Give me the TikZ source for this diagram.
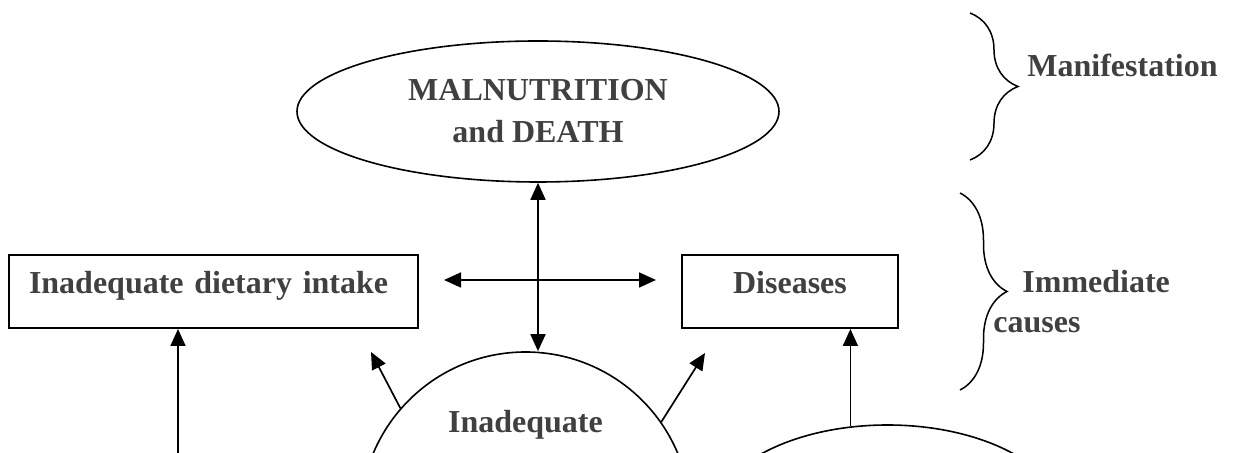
\documentclass[tikz,border=0pt]{standalone}
\usepackage{fontspec}
\setmainfont{Liberation Serif}
\usetikzlibrary{shapes.geometric, arrows.meta, decorations.pathreplacing}
\definecolor{txtgray}{RGB}{64,64,64}

\begin{document}
\begin{tikzpicture}[
        x=0.5pt, y=-0.5pt,
        every node/.style = {font=\bfseries\fontsize{16}{21}\selectfont, text=txtgray},
        cause/.style = {rectangle, draw=black, line width=1pt, inner xsep=10pt, inner ysep=0pt, text height=19.5pt, text depth=17pt},
        bubble/.style = {draw=black, line width=0.8pt, inner sep=0pt},
        levelname/.style = {anchor=base west, inner sep=0pt},
        grouping/.style = {decorate, decoration={brace, amplitude=#1}, line width=0.75pt},
        link/.style = {line width=0.85pt},
        >={Triangle[length=8.5pt, width=7.5pt]}
        ]

        \useasboundingbox (0,0) rectangle (1239,453);
        \clip (0,0) rectangle (1239,453);

        \node (mal) at (538,111.5)     [bubble, ellipse, minimum width=241pt, minimum height=70.5pt, align=center] {MALNUTRITION\\and DEATH};
        \node (diet) at (213.5,291.5)  [cause, text width=184.5pt, align=left] {Inadequate dietary intake};
        \node (dis) at (790,291.5)     [cause, minimum width=108pt] {Diseases};
        \node (hfood) at (525.5,517)   [bubble, circle, minimum size=165pt] {};
        \node (hfoodtxt) at (525.5,433) [anchor=base] {Inadequate};
        \node (hhealth) at (887.5,523) [bubble, ellipse, minimum width=178pt, minimum height=98pt] {};

        % levels on the right
        \draw[grouping=24pt] (970,13) -- (970,160);
        \draw[grouping=23.5pt] (960,193) -- (960,390);
        \node (manif) at (1027,77)     [levelname] {Manifestation};
        \node (immed) at (1022,293)    [levelname] {Immediate};
        \node (causes) at (993,333)    [levelname] {causes};

        \coordinate (dietfrom) at (178,470);
        \coordinate (dietend) at (371,352);
        \coordinate (disend) at (705,353);

        \draw[<->, link] (mal.south) -- (mal.south |- hfood.north);
        \draw[<->, link] ([shift={(25,-11.5)}]diet.east) -- ([shift={(-25,-11.5)}]dis.west);
        \draw[->, link] (dietfrom) -- (dietfrom |- diet.south);
        \draw[->, link] (hhealth.111) -- (hhealth.111 |- dis.south);
        \draw[->, link] (hfood.139) -- (dietend);
        \draw[->, link] (hfood.35) -- (disend);
    \end{tikzpicture}
\end{document}
